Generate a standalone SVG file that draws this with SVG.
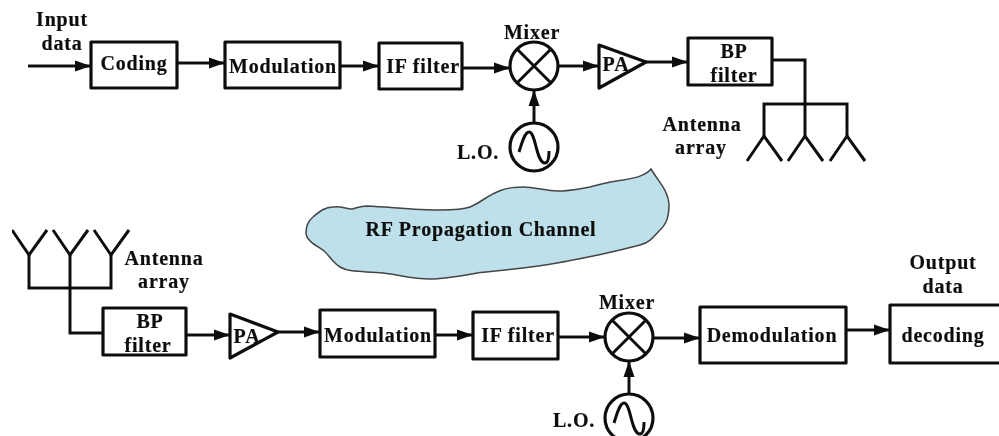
<svg xmlns="http://www.w3.org/2000/svg" width="999" height="436" viewBox="0 0 999 436">
<style>
.b{fill:#fff;stroke:#111;stroke-width:3.2;stroke-linejoin:round}
.l{fill:none;stroke:#111;stroke-width:3;stroke-linejoin:miter}
.a{fill:none;stroke:#111;stroke-width:3;marker-end:url(#ah)}
text{font-family:"Liberation Serif","Times New Roman",serif;font-weight:bold;font-size:20px;letter-spacing:.8px;fill:#111;stroke:#111;stroke-width:.2px;text-anchor:middle}
</style>
<defs>
<filter id="soft" x="0" y="0" width="100%" height="100%"><feGaussianBlur stdDeviation="0.45"/></filter>
<marker id="ah" markerUnits="userSpaceOnUse" markerWidth="18" markerHeight="12" refX="16" refY="6" orient="auto"><path d="M0,0.5L16,6L0,11.5Z" fill="#111"/></marker>
<g id="mix"><circle r="24" class="b"/><path d="M-17,-17L17,17M17,-17L-17,17" class="l"/></g>
<g id="osc"><circle r="24" class="b"/><path d="M-15,5C-12,-5 -9,-15 -5,-15C2,-15 2,16 11,16C14,16 15,10 15,4" class="l"/></g>
<path id="ant" d="M-17,25L0,0L18,25" class="l"/>
</defs>
<g filter="url(#soft)">
<g id="channel"><path d="M651,169C658,181 668,190 669,204C669,216 667,224 659,231C651,240 648,243 640,245C610,253 585,258 557,263C530,268 505,270 477,273C460,276 445,279 430,279C413,279 400,275 383,273C365,271 350,273 340,267C332,262 330,256 323,250C315,245 306,240 306,233C306,226 308,221 313,217C320,211 325,207 333,207C342,206 346,209 352,209C357,208 360,206 367,206C390,207 415,210 440,210C452,210 462,210 470,207C480,203 487,196 497,192C505,188 515,187 523,187C535,187 546,191 557,191C570,191 578,189 590,187C602,184 612,181 623,180C635,178 645,176 651,169Z" fill="#bde0ea" stroke="#444" stroke-width="1.5"/><text x="481" y="236">RF Propagation Channel</text></g>
<g id="connectors">
<path class="a" d="M28,66H91"/><path class="a" d="M177,63H225"/><path class="a" d="M340,66H379"/><path class="a" d="M462,68H510"/><path class="a" d="M558,66H599"/><path class="a" d="M646,62H688"/><path class="a" d="M534,123V90"/>
<path class="l" d="M772,60H805V136M764,136V104H847V136"/>
<path class="l" d="M29,255V288H111V255M70,255V333H103"/>
<path class="a" d="M186,335H230"/><path class="a" d="M278,332H320"/><path class="a" d="M435,335H473"/><path class="a" d="M558,337H605"/><path class="a" d="M653,338H700"/><path class="a" d="M846,330H890"/><path class="a" d="M629,394V361"/>
</g>
<g id="input-label"><text x="62" y="26">Input</text><text x="62" y="50">data</text></g>
<g id="coding"><rect class="b" x="91" y="42" width="86" height="46"/><text x="134" y="70">Coding</text></g>
<g id="modulation-top"><rect class="b" x="225" y="42" width="115" height="46"/><text x="283" y="73">Modulation</text></g>
<g id="if-top"><rect class="b" x="379" y="43" width="83" height="46"/><text x="423" y="73">IF filter</text></g>
<g id="mixer-top"><use href="#mix" x="534" y="66"/><text x="532" y="39">Mixer</text></g>
<g id="lo-top"><use href="#osc" x="534" y="147"/><text x="478" y="159">L.O.</text></g>
<g id="pa-top"><path class="b" d="M599,45L646,62L599,88Z"/><text x="616" y="71">PA</text></g>
<g id="bp-top"><rect class="b" x="688" y="38" width="84" height="47"/><text x="734" y="58">BP</text><text x="734" y="82">filter</text></g>
<g id="array-top"><use href="#ant" x="764" y="136"/><use href="#ant" x="805" y="136"/><use href="#ant" x="847" y="136"/><text x="702" y="131">Antenna</text><text x="701" y="154">array</text></g>
<g id="array-bottom"><use href="#ant" x="29" y="231" transform="matrix(1 0 0 -1 0 486)"/><use href="#ant" x="70" y="231" transform="matrix(1 0 0 -1 0 486)"/><use href="#ant" x="111" y="231" transform="matrix(1 0 0 -1 0 486)"/><text x="164" y="265">Antenna</text><text x="164" y="288">array</text></g>
<g id="bp-bottom"><rect class="b" x="103" y="308" width="83" height="47"/><text x="150" y="328">BP</text><text x="148" y="352">filter</text></g>
<g id="pa-bottom"><path class="b" d="M230,314L278,332L230,358Z"/><text x="247" y="343">PA</text></g>
<g id="modulation-bottom"><rect class="b" x="320" y="310" width="115" height="47"/><text x="378" y="342">Modulation</text></g>
<g id="if-bottom"><rect class="b" x="473" y="312" width="85" height="47"/><text x="518" y="342">IF filter</text></g>
<g id="mixer-bottom"><use href="#mix" x="629" y="337"/><text x="627" y="309">Mixer</text></g>
<g id="lo-bottom"><use href="#osc" x="629" y="418"/><text x="574" y="427">L.O.</text></g>
<g id="demodulation"><rect class="b" x="700" y="307" width="146" height="56"/><text x="772" y="342">Demodulation</text></g>
<g id="decoding"><rect class="b" x="890" y="305" width="115" height="58"/><text x="943" y="342">decoding</text></g>
<g id="output-label"><text x="943" y="269">Output</text><text x="943" y="293">data</text></g>
</g>
</svg>
